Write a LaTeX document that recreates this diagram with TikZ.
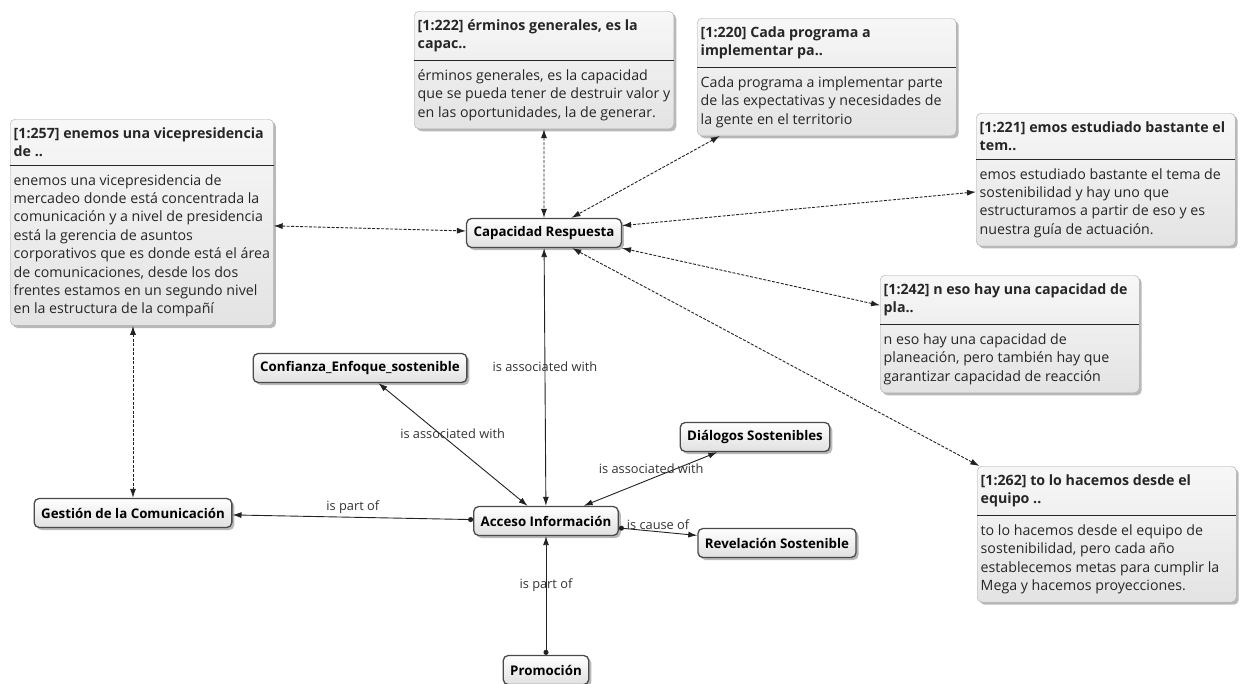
\documentclass[tikz,border=0pt]{standalone}
\usepackage{fontspec}
\setmainfont{Open Sans}
\usepackage{xcolor}
\usepackage{tikz}
\usetikzlibrary{arrows.meta, positioning, shapes.multipart, shadows}

\definecolor{edgegray}{HTML}{4A4A4A}
\definecolor{memoline}{HTML}{ABABAB}
\definecolor{linkgray}{HTML}{222222}

\begin{document}
\begin{tikzpicture}[
    x=1pt, y=-1pt,
    concept/.style={draw=edgegray, line width=1.3pt, rounded corners=5pt,
                    top color=white, bottom color=black!12, inner xsep=7pt,
                    minimum height=29pt, font=\fontsize{13.3}{15}\selectfont\bfseries,
                    drop shadow={shadow xshift=2.5pt, shadow yshift=-2.5pt, fill=black!55}},
    memo/.style={rectangle split, rectangle split parts=2, rectangle split draw splits=false,
                 rectangle split part align=left, align=left, anchor=north west,
                 draw=memoline, rounded corners=5pt, top color=black!3, bottom color=black!11,
                 inner xsep=3.5pt, inner ysep=8pt, minimum width=259pt, text=black!85,
                 font=\fontsize{14.2}{18.4}\selectfont,
                 drop shadow={shadow xshift=2.5pt, shadow yshift=-2.5pt, fill=black!55}},
    sepline/.style={draw=black!85, line width=0.9pt},
    link/.style={{Latex[length=9pt,width=6pt]}-{Latex[length=9pt,width=6pt]}, draw=linkgray, line width=0.9pt},
    partlink/.style={{Circle[length=5pt]}-{Latex[length=9pt,width=6pt]}, draw=linkgray, line width=0.9pt},
    memolink/.style={link, dash pattern=on 3pt off 1.5pt},
    rel/.style={font=\fontsize{12.8}{15}\selectfont, text=black!80, inner sep=1pt},
]
\useasboundingbox (0,0) rectangle (1241,683);

% comment boxes
\node[memo] (c257) at (10,119) {\textbf{[1:257] enemos una vicepresidencia}\\\textbf{de ..}
  \nodepart{two}\rule{0pt}{12pt}enemos una vicepresidencia de\\mercadeo donde está concentrada la\\comunicación y a nivel de presidencia\\está la gerencia de asuntos\\corporativos que es donde está el área\\de comunicaciones, desde los dos\\frentes estamos en un segundo nivel\\en la estructura de la compañí};
\node[memo] (c222) at (414,11) {\textbf{[1:222] érminos generales, es la}\\\textbf{capac..}
  \nodepart{two}\rule{0pt}{12pt}érminos generales, es la capacidad\\que se pueda tener de destruir valor y\\en las oportunidades, la de generar.};
\node[memo] (c220) at (697,18) {\textbf{[1:220] Cada programa a}\\\textbf{implementar pa..}
  \nodepart{two}\rule{0pt}{12pt}Cada programa a implementar parte\\de las expectativas y necesidades de\\la gente en el territorio};
\node[memo] (c221) at (976,113) {\textbf{[1:221] emos estudiado bastante el}\\\textbf{tem..}
  \nodepart{two}\rule{0pt}{12pt}emos estudiado bastante el tema de\\sostenibilidad y hay uno que\\estructuramos a partir de eso y es\\nuestra guía de actuación.};
\node[memo] (c242) at (880,275) {\textbf{[1:242] n eso hay una capacidad de}\\\textbf{pla..}
  \nodepart{two}\rule{0pt}{12pt}n eso hay una capacidad de\\planeación, pero también hay que\\garantizar capacidad de reacción};
\node[memo] (c262) at (977,466) {\textbf{[1:262] to lo hacemos desde el}\\\textbf{equipo ..}
  \nodepart{two}\rule{0pt}{12pt}to lo hacemos desde el equipo de\\sostenibilidad, pero cada año\\establecemos metas para cumplir la\\Mega y hacemos proyecciones.};

\foreach \m in {c257, c222, c220, c221, c242, c262}
  \draw[sepline] (\m.text split west) -- (\m.text split east);

% codes
\node[concept] (cap) at (544,233) {Capacidad Respuesta};
\node[concept] (conf) at (360,368) {Confianza\_Enfoque\_sostenible};
\node[concept] (dial) at (755,437) {Diálogos Sostenibles};
\node[concept] (acc) at (546,521) {Acceso Información};
\node[concept] (rev) at (777,543) {Revelación Sostenible};
\node[concept] (gest) at (133,513) {Gestión de la Comunicación};
\node[concept] (prom) at (546,670) {Promoción};

% links to comments
\draw[memolink] (c257) -- (cap);
\draw[memolink] (c222) -- (cap);
\draw[memolink] (c220) -- (cap);
\draw[memolink] (c221) -- (cap);
\draw[memolink] (c242) -- (cap.south east);
\draw[memolink] (c262) -- (cap);
\draw[memolink] (c257.south -| gest.north) -- (gest.north);

% relations
\draw[link] (acc) -- (cap) node[rel, pos=0.54] {is associated with};
\draw[link] (acc) -- (conf) node[rel, pos=0.59, xshift=13pt] {is associated with};
\draw[link] (acc) -- (dial) node[rel, pos=0.7, xshift=-26pt] {is associated with};
\draw[partlink] (acc) -- (gest) node[rel, midway, above=2pt] {is part of};
\draw[partlink] (acc) -- (rev) node[rel, midway, above=1pt] {is cause of};
\draw[partlink] (prom) -- (acc) node[rel, pos=0.59] {is part of};

\end{tikzpicture}
\end{document}
